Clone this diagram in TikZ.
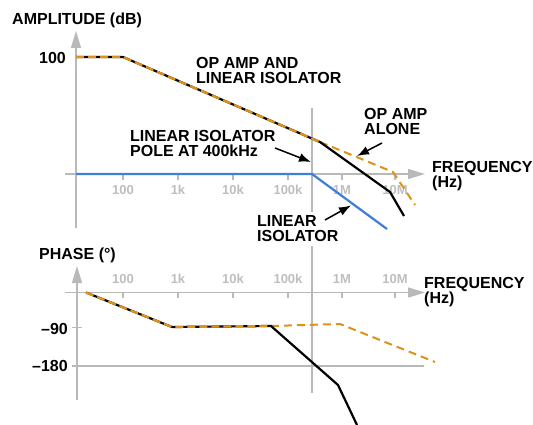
\documentclass[tikz,border=0pt]{standalone}
\usepackage{fontspec}
\setmainfont{Liberation Sans}[BoldFont={Liberation Sans Bold}]
\usetikzlibrary{arrows.meta}
\definecolor{axisgray}{RGB}{185,185,185}
\definecolor{ticklblgray}{RGB}{190,190,190}
\definecolor{curveorange}{RGB}{222,146,24}
\definecolor{curveblue}{RGB}{61,126,219}
\begin{document}
\begin{tikzpicture}[x=1pt,y=-1pt,
  axisline/.style={draw=axisgray,line width=1.4pt},
  axisarrow/.style={axisline,-{Triangle[length=17pt,width=10pt]}},
  lbl/.style={font=\bfseries\fontsize{16}{15}\selectfont,inner sep=0pt,align=left},
  ticklbl/.style={font=\bfseries\fontsize{13}{13}\selectfont,text=ticklblgray,inner sep=0pt,anchor=base},
  blackcurve/.style={draw=black,line width=2.2pt,line join=miter},
  orangedash/.style={draw=curveorange,line width=2.2pt,dash pattern=on 8pt off 4pt},
  orangealone/.style={draw=curveorange,line width=2pt,dash pattern=on 8pt off 5pt},
  bluecurve/.style={draw=curveblue,line width=2.2pt},
  pointer/.style={draw=black,line width=1.5pt,-{Latex[length=12pt,width=9pt]}}
]
\useasboundingbox (0,0) rectangle (533,425);

% ---------- axes ----------
\coordinate (ayb) at (76,228);
\coordinate (ayt) at (76,31);
\coordinate (axl) at (65,174);
\coordinate (axr) at (425,174);
\draw[axisarrow] (ayb) -- (ayt);
\draw[axisarrow] (axl) -- (axr);
\foreach \xx in {123,178,233,288,342,395} \draw[axisline] (\xx,174) -- (\xx,180);

\coordinate (pyb) at (77,400);
\coordinate (pyt) at (77,266);
\coordinate (pxl) at (65,292.5);
\coordinate (pxr) at (425,292.5);
\draw[axisarrow] (pyb) -- (pyt);
\draw[axisarrow] (pxl) -- (pxr);
\foreach \xx in {123,178,233,288,342,395} \draw[axisline] (\xx,292.5) -- (\xx,298);
\coordinate (t90a) at (72,327.5);
\coordinate (t90b) at (82,327.5);
\draw[axisline] (t90a) -- (t90b);
\coordinate (t180a) at (72,366);
\coordinate (t180b) at (424,366);
\draw[axisline] (t180a) -- (t180b);

% vertical marker at 400 kHz
\coordinate (vt) at (312,108);
\coordinate (vb) at (312,393);
\draw[axisline] (vt) -- (vb);

% tick labels
\foreach \xx/\tt in {123/100,178/1k,233/10k,288/100k,342/1M,395/10M}{
  \node[ticklbl] at (\xx,194.7) {\tt};
  \node[ticklbl] at (\xx,283.7) {\tt};
}

% ---------- amplitude curves ----------
\coordinate (a0) at (76,57);
\coordinate (a1) at (123,57);
\coordinate (a2) at (320,142);
\coordinate (ab1) at (390,192);
\coordinate (ab2) at (404,216);
\coordinate (ao1) at (393,172);
\coordinate (ao2) at (415,205);
\draw[orangealone] (a2) -- (ao1) -- (ao2);
\draw[blackcurve] (a0) -- (a1) -- (a2) -- (ab1) -- (ab2);
\draw[orangedash] (a0) -- (a1) -- (a2);

\coordinate (b0) at (76,174);
\coordinate (b1) at (312,174);
\coordinate (b2) at (387,229);
\draw[bluecurve] (b0) -- (b1) -- (b2);

% ---------- phase curves ----------
\coordinate (p0) at (86,292.5);
\coordinate (p1) at (172,327);
\coordinate (p2) at (271,326);
\coordinate (pb1) at (338,385);
\coordinate (pb2) at (357,425);
\coordinate (po1) at (340,324);
\coordinate (po2) at (435,362);
\draw[orangealone] (p2) -- (po1) -- (po2);
\draw[blackcurve] (p0) -- (p1) -- (p2) -- (pb1) -- (pb2);
\draw[orangedash] (p0) -- (p1) -- (p2);

% ---------- labels (base = baseline of last line) ----------
\node[lbl,anchor=base west] (amp) at (12,24.5) {AMPLITUDE (dB)};
\node[lbl,anchor=base east] (l100) at (66,63.5) {100};
\node[lbl,anchor=base west] (phase) at (39,259.3) {PHASE (°)};
\node[lbl,anchor=base east] (l90) at (68,334) {–90};
\node[lbl,anchor=base east] (l180) at (68,371.5) {–180};

\node[lbl,anchor=base west] (both) at (196,83.3) {OP AMP AND\\LINEAR ISOLATOR};
\node[lbl,anchor=base west] (pole) at (130,156.7) {LINEAR ISOLATOR\\POLE AT 400kHz};
\node[lbl,anchor=base west] (alone) at (364,135) {OP AMP\\ALONE};
\node[lbl,anchor=base west] (freq1) at (432,187.5) {FREQUENCY\\(Hz)};
\node[lbl,anchor=base west] (freq2) at (424,303.5) {FREQUENCY\\(Hz)};
\node[lbl,anchor=base west,fill=white,inner sep=4pt] (iso) at (253,241.7) {LINEAR\\ISOLATOR};

% ---------- pointers ----------
\coordinate (poleS) at (275,148);
\coordinate (poleE) at (311,162);
\draw[pointer] (poleS) -- (poleE);
\coordinate (aloneS) at (382,143);
\coordinate (aloneE) at (357,156);
\draw[pointer] (aloneS) -- (aloneE);
\coordinate (isoS) at (325,220);
\coordinate (isoE) at (351,205.5);
\draw[pointer] (isoS) -- (isoE);
\end{tikzpicture}
\end{document}
